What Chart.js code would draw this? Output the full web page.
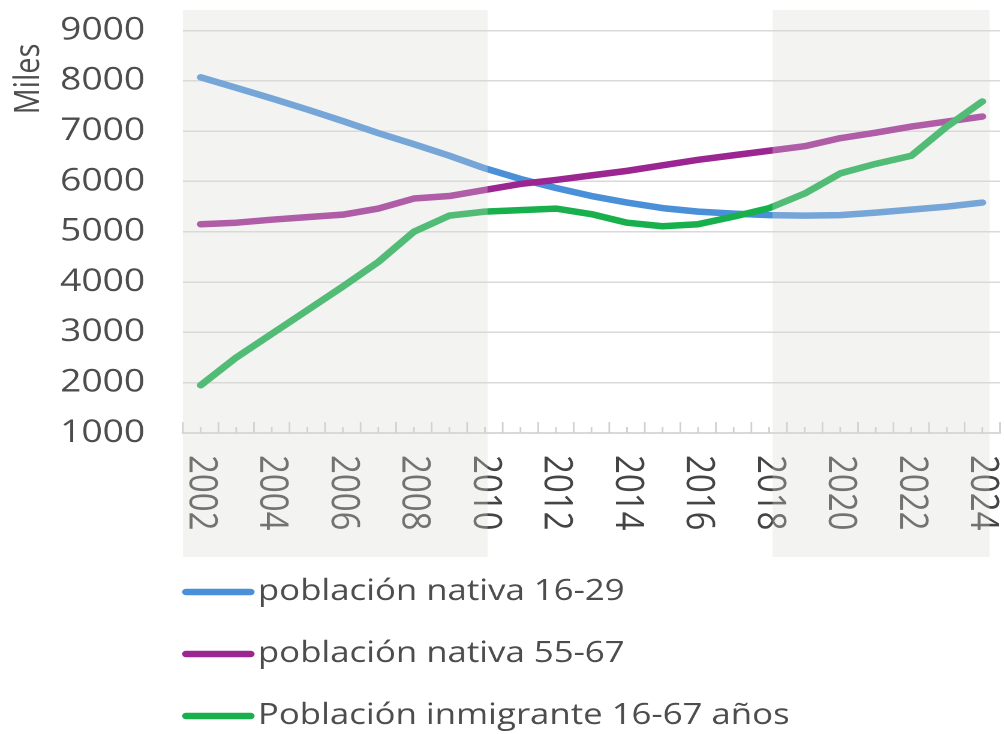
<!DOCTYPE html>
<html lang="es">
<head>
<meta charset="utf-8">
<title>Población nativa e inmigrante</title>
<script src="https://cdn.jsdelivr.net/npm/chart.js@4.4.1/dist/chart.umd.min.js"></script>
<style>
  html, body { margin: 0; padding: 0; background: #fff; overflow: hidden; }
  #marco { position: absolute; left: 0; top: 0; width: 837px; height: 734px; transform: scaleX(1.1995); transform-origin: 0 0; }
</style>
</head>
<body>
<div id="marco"><canvas id="grafico"></canvas></div>
<script>
const anios = ["2002", "2003", "2004", "2005", "2006", "2007", "2008", "2009", "2010", "2011", "2012",
  "2013", "2014", "2015", "2016", "2017", "2018", "2019", "2020", "2021", "2022", "2023", "2024"];

const nativa1629 = [8070, 7860, 7650, 7430, 7200, 6960, 6740, 6510, 6260, 6050, 5870, 5710,
  5580, 5470, 5400, 5360, 5330, 5320, 5330, 5380, 5440, 5500, 5580];
const nativa5567 = [5150, 5180, 5240, 5290, 5340, 5460, 5660, 5710, 5830, 5950, 6030, 6120,
  6210, 6320, 6430, 6520, 6610, 6700, 6860, 6970, 7090, 7190, 7290];
const inmigrante = [1950, 2500, 2970, 3440, 3910, 4400, 5000, 5320, 5400, 5430, 5460, 5350,
  5180, 5110, 5150, 5300, 5470, 5760, 6160, 6350, 6510, 7090, 7590];

const etiquetas = ["población nativa 16-29", "población nativa 55-67", "Población inmigrante 16-67 años"];
const colores = ["#4a90d9", "#9b2691", "#17b04c"];

// periodos sombreados
const periodos = [["2002", "2010"], ["2018", "2024"]];

const ejeMin = 1000;
const ejeMax = 9000;
const ejePaso = 1000;

const fuente = "'Open Sans'";
const gris = "#444";

const adornos = {
  id: "adornos",
  beforeDatasetsDraw(chart) {
    const { ctx, scales: { x } } = chart;
    const base = chart.chartArea.bottom;
    const paso = (x.right - x.left) / anios.length;
    ctx.save();
    ctx.strokeStyle = "#d0d0d0";
    ctx.lineWidth = 1.4;
    ctx.beginPath();
    for (let i = 0; i <= anios.length; i++) {
      const px = x.left + i * paso;
      ctx.moveTo(px, base);
      ctx.lineTo(px, base - 11);
    }
    anios.forEach((a, i) => {
      const px = x.getPixelForValue(i);
      ctx.moveTo(px, base);
      ctx.lineTo(px, base - 6);
    });
    ctx.stroke();
    ctx.restore();
  },
  afterDraw(chart) {
    const { ctx, scales: { x } } = chart;
    ctx.save();

    // años girados, se leen de arriba abajo
    ctx.font = "33px " + fuente;
    ctx.fillStyle = gris;
    ctx.textAlign = "left";
    ctx.textBaseline = "middle";
    anios.forEach((a, i) => {
      if (i % 2) return;
      ctx.save();
      ctx.translate(x.getPixelForValue(i), 455);
      ctx.rotate(Math.PI / 2);
      ctx.fillText(a, 0, 0);
      ctx.restore();
    });

    // sombreado encima de las líneas
    ctx.fillStyle = "rgba(216,216,212,0.31)";
    periodos.forEach(([desde, hasta]) => {
      const i0 = anios.indexOf(desde);
      const i1 = anios.indexOf(hasta);
      const x0 = i0 === 0 ? x.left : x.getPixelForValue(i0) + 2.8;
      const x1 = x.getPixelForValue(i1) + (i1 === anios.length - 1 ? 6 : 2.2);
      ctx.fillRect(x0, 10, x1 - x0, 547);
    });

    // título del eje Y
    ctx.save();
    ctx.font = "29px " + fuente;
    ctx.fillStyle = "#4d4d4d";
    ctx.textAlign = "center";
    ctx.textBaseline = "middle";
    ctx.translate(24, 79);
    ctx.rotate(-Math.PI / 2);
    ctx.fillText("Miles", 0, 0);
    ctx.restore();

    // leyenda
    const filas = [592, 654, 716];
    ctx.font = "29px " + fuente;
    ctx.textAlign = "left";
    ctx.textBaseline = "alphabetic";
    ctx.lineCap = "round";
    ctx.lineWidth = 6.5;
    chart.data.datasets.forEach((d, i) => {
      ctx.strokeStyle = d.borderColor;
      ctx.beginPath();
      ctx.moveTo(155, filas[i]);
      ctx.lineTo(209, filas[i]);
      ctx.stroke();
      ctx.fillStyle = "#4d4d4d";
      ctx.fillText(d.label, 215, filas[i] + 8);
    });

    ctx.restore();
  }
};

const serie = (label, data, color, orden) => ({
  label,
  data,
  borderColor: color,
  backgroundColor: color,
  borderWidth: 6.5,
  borderCapStyle: "round",
  borderJoinStyle: "round",
  pointRadius: 0,
  tension: 0,
  fill: false,
  order: orden
});

new Chart(document.getElementById("grafico"), {
  type: "line",
  data: {
    labels: anios,
    datasets: [
      serie(etiquetas[0], nativa1629, colores[0], 3),
      serie(etiquetas[1], nativa5567, colores[1], 2),
      serie(etiquetas[2], inmigrante, colores[2], 1)
    ]
  },
  options: {
    responsive: true,
    maintainAspectRatio: false,
    devicePixelRatio: 2,
    animation: false,
    layout: { padding: { top: 30.5, right: 0, bottom: 0, left: 0 } },
    plugins: {
      legend: { display: false },
      tooltip: { enabled: false }
    },
    scales: {
      x: {
        type: "category",
        offset: true,
        grid: { display: false },
        border: { display: true, color: "#d9d9d9", width: 2 },
        ticks: { display: false },
        afterFit(s) { s.height = 734 - 433; }
      },
      y: {
        min: ejeMin,
        max: ejeMax,
        grid: { color: "#d9d9d9", lineWidth: 1.5, drawTicks: false },
        border: { display: false },
        ticks: {
          stepSize: ejePaso,
          padding: 31.5,
          color: "#4d4d4d",
          font: { family: fuente, size: 31 },
          callback: (v) => String(v)
        },
        afterFit(s) {
          s.width = 152.5;
          s.paddingTop = 0;
          s.paddingBottom = 0;
        }
      }
    }
  },
  plugins: [adornos]
});
</script>
</body>
</html>
